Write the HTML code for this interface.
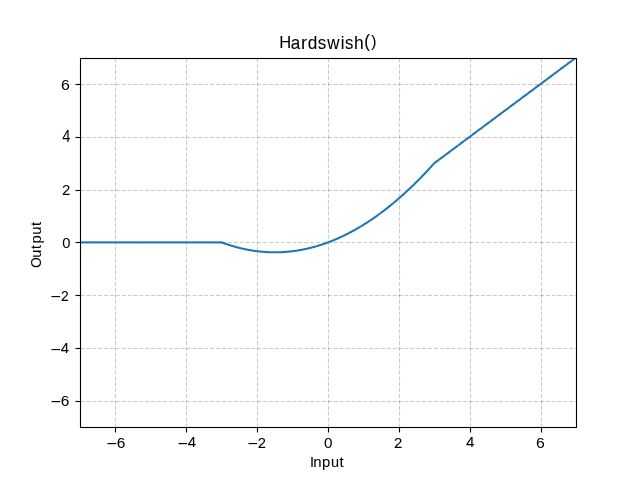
<!DOCTYPE html>
<html><head><meta charset="utf-8"><style>
html,body{margin:0;padding:0;background:#fff;overflow:hidden;}
svg{display:block;will-change:transform;}
text{font-family:"Liberation Sans",sans-serif;fill:#000;}
</style></head><body>
<svg width="640" height="480" viewBox="0 0 640 480">
<rect width="640" height="480" fill="#fff"/>
<g fill="#000" fill-opacity="0.2"><rect x="80.5" y="400.945" width="4.111" height="1.111"/><rect x="86.389" y="400.945" width="4.111" height="1.111"/><rect x="92.278" y="400.945" width="4.111" height="1.111"/><rect x="98.167" y="400.945" width="4.111" height="1.111"/><rect x="104.056" y="400.945" width="4.111" height="1.111"/><rect x="109.945" y="400.945" width="4.111" height="1.111"/><rect x="115.834" y="400.945" width="4.111" height="1.111"/><rect x="121.723" y="400.945" width="4.111" height="1.111"/><rect x="127.612" y="400.945" width="4.111" height="1.111"/><rect x="133.501" y="400.945" width="4.111" height="1.111"/><rect x="139.39" y="400.945" width="4.111" height="1.111"/><rect x="145.279" y="400.945" width="4.111" height="1.111"/><rect x="151.168" y="400.945" width="4.111" height="1.111"/><rect x="157.057" y="400.945" width="4.111" height="1.111"/><rect x="162.946" y="400.945" width="4.111" height="1.111"/><rect x="168.835" y="400.945" width="4.111" height="1.111"/><rect x="174.724" y="400.945" width="4.111" height="1.111"/><rect x="180.613" y="400.945" width="4.111" height="1.111"/><rect x="186.502" y="400.945" width="4.111" height="1.111"/><rect x="192.391" y="400.945" width="4.111" height="1.111"/><rect x="198.28" y="400.945" width="4.111" height="1.111"/><rect x="204.169" y="400.945" width="4.111" height="1.111"/><rect x="210.058" y="400.945" width="4.111" height="1.111"/><rect x="215.947" y="400.945" width="4.111" height="1.111"/><rect x="221.836" y="400.945" width="4.111" height="1.111"/><rect x="227.725" y="400.945" width="4.111" height="1.111"/><rect x="233.614" y="400.945" width="4.111" height="1.111"/><rect x="239.503" y="400.945" width="4.111" height="1.111"/><rect x="245.392" y="400.945" width="4.111" height="1.111"/><rect x="251.281" y="400.945" width="4.111" height="1.111"/><rect x="257.17" y="400.945" width="4.111" height="1.111"/><rect x="263.059" y="400.945" width="4.111" height="1.111"/><rect x="268.948" y="400.945" width="4.111" height="1.111"/><rect x="274.837" y="400.945" width="4.111" height="1.111"/><rect x="280.726" y="400.945" width="4.111" height="1.111"/><rect x="286.615" y="400.945" width="4.111" height="1.111"/><rect x="292.504" y="400.945" width="4.111" height="1.111"/><rect x="298.393" y="400.945" width="4.111" height="1.111"/><rect x="304.282" y="400.945" width="4.111" height="1.111"/><rect x="310.171" y="400.945" width="4.111" height="1.111"/><rect x="316.06" y="400.945" width="4.111" height="1.111"/><rect x="321.949" y="400.945" width="4.111" height="1.111"/><rect x="327.838" y="400.945" width="4.111" height="1.111"/><rect x="333.727" y="400.945" width="4.111" height="1.111"/><rect x="339.616" y="400.945" width="4.111" height="1.111"/><rect x="345.505" y="400.945" width="4.111" height="1.111"/><rect x="351.394" y="400.945" width="4.111" height="1.111"/><rect x="357.283" y="400.945" width="4.111" height="1.111"/><rect x="363.172" y="400.945" width="4.111" height="1.111"/><rect x="369.061" y="400.945" width="4.111" height="1.111"/><rect x="374.95" y="400.945" width="4.111" height="1.111"/><rect x="380.839" y="400.945" width="4.111" height="1.111"/><rect x="386.728" y="400.945" width="4.111" height="1.111"/><rect x="392.617" y="400.945" width="4.111" height="1.111"/><rect x="398.506" y="400.945" width="4.111" height="1.111"/><rect x="404.395" y="400.945" width="4.111" height="1.111"/><rect x="410.284" y="400.945" width="4.111" height="1.111"/><rect x="416.173" y="400.945" width="4.111" height="1.111"/><rect x="422.062" y="400.945" width="4.111" height="1.111"/><rect x="427.951" y="400.945" width="4.111" height="1.111"/><rect x="433.84" y="400.945" width="4.111" height="1.111"/><rect x="439.729" y="400.945" width="4.111" height="1.111"/><rect x="445.618" y="400.945" width="4.111" height="1.111"/><rect x="451.507" y="400.945" width="4.111" height="1.111"/><rect x="457.396" y="400.945" width="4.111" height="1.111"/><rect x="463.285" y="400.945" width="4.111" height="1.111"/><rect x="469.174" y="400.945" width="4.111" height="1.111"/><rect x="475.063" y="400.945" width="4.111" height="1.111"/><rect x="480.952" y="400.945" width="4.111" height="1.111"/><rect x="486.841" y="400.945" width="4.111" height="1.111"/><rect x="492.73" y="400.945" width="4.111" height="1.111"/><rect x="498.619" y="400.945" width="4.111" height="1.111"/><rect x="504.508" y="400.945" width="4.111" height="1.111"/><rect x="510.397" y="400.945" width="4.111" height="1.111"/><rect x="516.286" y="400.945" width="4.111" height="1.111"/><rect x="522.175" y="400.945" width="4.111" height="1.111"/><rect x="528.064" y="400.945" width="4.111" height="1.111"/><rect x="533.953" y="400.945" width="4.111" height="1.111"/><rect x="539.842" y="400.945" width="4.111" height="1.111"/><rect x="545.731" y="400.945" width="4.111" height="1.111"/><rect x="551.62" y="400.945" width="4.111" height="1.111"/><rect x="557.509" y="400.945" width="4.111" height="1.111"/><rect x="563.398" y="400.945" width="4.111" height="1.111"/><rect x="569.287" y="400.945" width="4.111" height="1.111"/><rect x="575.176" y="400.945" width="1.324" height="1.111"/><rect x="114.945" y="423.389" width="1.111" height="4.111"/><rect x="114.945" y="417.5" width="1.111" height="4.111"/><rect x="114.945" y="411.611" width="1.111" height="4.111"/><rect x="114.945" y="405.722" width="1.111" height="4.111"/><rect x="114.945" y="399.833" width="1.111" height="4.111"/><rect x="114.945" y="393.944" width="1.111" height="4.111"/><rect x="114.945" y="388.055" width="1.111" height="4.111"/><rect x="114.945" y="382.166" width="1.111" height="4.111"/><rect x="114.945" y="376.277" width="1.111" height="4.111"/><rect x="114.945" y="370.388" width="1.111" height="4.111"/><rect x="114.945" y="364.499" width="1.111" height="4.111"/><rect x="114.945" y="358.61" width="1.111" height="4.111"/><rect x="114.945" y="352.721" width="1.111" height="4.111"/><rect x="114.945" y="346.832" width="1.111" height="4.111"/><rect x="114.945" y="340.943" width="1.111" height="4.111"/><rect x="114.945" y="335.054" width="1.111" height="4.111"/><rect x="114.945" y="329.165" width="1.111" height="4.111"/><rect x="114.945" y="323.276" width="1.111" height="4.111"/><rect x="114.945" y="317.387" width="1.111" height="4.111"/><rect x="114.945" y="311.498" width="1.111" height="4.111"/><rect x="114.945" y="305.609" width="1.111" height="4.111"/><rect x="114.945" y="299.72" width="1.111" height="4.111"/><rect x="114.945" y="293.831" width="1.111" height="4.111"/><rect x="114.945" y="287.942" width="1.111" height="4.111"/><rect x="114.945" y="282.053" width="1.111" height="4.111"/><rect x="114.945" y="276.164" width="1.111" height="4.111"/><rect x="114.945" y="270.275" width="1.111" height="4.111"/><rect x="114.945" y="264.386" width="1.111" height="4.111"/><rect x="114.945" y="258.497" width="1.111" height="4.111"/><rect x="114.945" y="252.608" width="1.111" height="4.111"/><rect x="114.945" y="246.719" width="1.111" height="4.111"/><rect x="114.945" y="240.83" width="1.111" height="4.111"/><rect x="114.945" y="234.941" width="1.111" height="4.111"/><rect x="114.945" y="229.052" width="1.111" height="4.111"/><rect x="114.945" y="223.163" width="1.111" height="4.111"/><rect x="114.945" y="217.274" width="1.111" height="4.111"/><rect x="114.945" y="211.385" width="1.111" height="4.111"/><rect x="114.945" y="205.496" width="1.111" height="4.111"/><rect x="114.945" y="199.607" width="1.111" height="4.111"/><rect x="114.945" y="193.718" width="1.111" height="4.111"/><rect x="114.945" y="187.829" width="1.111" height="4.111"/><rect x="114.945" y="181.94" width="1.111" height="4.111"/><rect x="114.945" y="176.051" width="1.111" height="4.111"/><rect x="114.945" y="170.162" width="1.111" height="4.111"/><rect x="114.945" y="164.273" width="1.111" height="4.111"/><rect x="114.945" y="158.384" width="1.111" height="4.111"/><rect x="114.945" y="152.495" width="1.111" height="4.111"/><rect x="114.945" y="146.606" width="1.111" height="4.111"/><rect x="114.945" y="140.717" width="1.111" height="4.111"/><rect x="114.945" y="134.828" width="1.111" height="4.111"/><rect x="114.945" y="128.939" width="1.111" height="4.111"/><rect x="114.945" y="123.05" width="1.111" height="4.111"/><rect x="114.945" y="117.161" width="1.111" height="4.111"/><rect x="114.945" y="111.272" width="1.111" height="4.111"/><rect x="114.945" y="105.383" width="1.111" height="4.111"/><rect x="114.945" y="99.494" width="1.111" height="4.111"/><rect x="114.945" y="93.605" width="1.111" height="4.111"/><rect x="114.945" y="87.716" width="1.111" height="4.111"/><rect x="114.945" y="81.827" width="1.111" height="4.111"/><rect x="114.945" y="75.938" width="1.111" height="4.111"/><rect x="114.945" y="70.049" width="1.111" height="4.111"/><rect x="114.945" y="64.16" width="1.111" height="4.111"/><rect x="114.945" y="58.5" width="1.111" height="3.882"/><rect x="80.5" y="347.945" width="4.111" height="1.111"/><rect x="86.389" y="347.945" width="4.111" height="1.111"/><rect x="92.278" y="347.945" width="4.111" height="1.111"/><rect x="98.167" y="347.945" width="4.111" height="1.111"/><rect x="104.056" y="347.945" width="4.111" height="1.111"/><rect x="109.945" y="347.945" width="4.111" height="1.111"/><rect x="115.834" y="347.945" width="4.111" height="1.111"/><rect x="121.723" y="347.945" width="4.111" height="1.111"/><rect x="127.612" y="347.945" width="4.111" height="1.111"/><rect x="133.501" y="347.945" width="4.111" height="1.111"/><rect x="139.39" y="347.945" width="4.111" height="1.111"/><rect x="145.279" y="347.945" width="4.111" height="1.111"/><rect x="151.168" y="347.945" width="4.111" height="1.111"/><rect x="157.057" y="347.945" width="4.111" height="1.111"/><rect x="162.946" y="347.945" width="4.111" height="1.111"/><rect x="168.835" y="347.945" width="4.111" height="1.111"/><rect x="174.724" y="347.945" width="4.111" height="1.111"/><rect x="180.613" y="347.945" width="4.111" height="1.111"/><rect x="186.502" y="347.945" width="4.111" height="1.111"/><rect x="192.391" y="347.945" width="4.111" height="1.111"/><rect x="198.28" y="347.945" width="4.111" height="1.111"/><rect x="204.169" y="347.945" width="4.111" height="1.111"/><rect x="210.058" y="347.945" width="4.111" height="1.111"/><rect x="215.947" y="347.945" width="4.111" height="1.111"/><rect x="221.836" y="347.945" width="4.111" height="1.111"/><rect x="227.725" y="347.945" width="4.111" height="1.111"/><rect x="233.614" y="347.945" width="4.111" height="1.111"/><rect x="239.503" y="347.945" width="4.111" height="1.111"/><rect x="245.392" y="347.945" width="4.111" height="1.111"/><rect x="251.281" y="347.945" width="4.111" height="1.111"/><rect x="257.17" y="347.945" width="4.111" height="1.111"/><rect x="263.059" y="347.945" width="4.111" height="1.111"/><rect x="268.948" y="347.945" width="4.111" height="1.111"/><rect x="274.837" y="347.945" width="4.111" height="1.111"/><rect x="280.726" y="347.945" width="4.111" height="1.111"/><rect x="286.615" y="347.945" width="4.111" height="1.111"/><rect x="292.504" y="347.945" width="4.111" height="1.111"/><rect x="298.393" y="347.945" width="4.111" height="1.111"/><rect x="304.282" y="347.945" width="4.111" height="1.111"/><rect x="310.171" y="347.945" width="4.111" height="1.111"/><rect x="316.06" y="347.945" width="4.111" height="1.111"/><rect x="321.949" y="347.945" width="4.111" height="1.111"/><rect x="327.838" y="347.945" width="4.111" height="1.111"/><rect x="333.727" y="347.945" width="4.111" height="1.111"/><rect x="339.616" y="347.945" width="4.111" height="1.111"/><rect x="345.505" y="347.945" width="4.111" height="1.111"/><rect x="351.394" y="347.945" width="4.111" height="1.111"/><rect x="357.283" y="347.945" width="4.111" height="1.111"/><rect x="363.172" y="347.945" width="4.111" height="1.111"/><rect x="369.061" y="347.945" width="4.111" height="1.111"/><rect x="374.95" y="347.945" width="4.111" height="1.111"/><rect x="380.839" y="347.945" width="4.111" height="1.111"/><rect x="386.728" y="347.945" width="4.111" height="1.111"/><rect x="392.617" y="347.945" width="4.111" height="1.111"/><rect x="398.506" y="347.945" width="4.111" height="1.111"/><rect x="404.395" y="347.945" width="4.111" height="1.111"/><rect x="410.284" y="347.945" width="4.111" height="1.111"/><rect x="416.173" y="347.945" width="4.111" height="1.111"/><rect x="422.062" y="347.945" width="4.111" height="1.111"/><rect x="427.951" y="347.945" width="4.111" height="1.111"/><rect x="433.84" y="347.945" width="4.111" height="1.111"/><rect x="439.729" y="347.945" width="4.111" height="1.111"/><rect x="445.618" y="347.945" width="4.111" height="1.111"/><rect x="451.507" y="347.945" width="4.111" height="1.111"/><rect x="457.396" y="347.945" width="4.111" height="1.111"/><rect x="463.285" y="347.945" width="4.111" height="1.111"/><rect x="469.174" y="347.945" width="4.111" height="1.111"/><rect x="475.063" y="347.945" width="4.111" height="1.111"/><rect x="480.952" y="347.945" width="4.111" height="1.111"/><rect x="486.841" y="347.945" width="4.111" height="1.111"/><rect x="492.73" y="347.945" width="4.111" height="1.111"/><rect x="498.619" y="347.945" width="4.111" height="1.111"/><rect x="504.508" y="347.945" width="4.111" height="1.111"/><rect x="510.397" y="347.945" width="4.111" height="1.111"/><rect x="516.286" y="347.945" width="4.111" height="1.111"/><rect x="522.175" y="347.945" width="4.111" height="1.111"/><rect x="528.064" y="347.945" width="4.111" height="1.111"/><rect x="533.953" y="347.945" width="4.111" height="1.111"/><rect x="539.842" y="347.945" width="4.111" height="1.111"/><rect x="545.731" y="347.945" width="4.111" height="1.111"/><rect x="551.62" y="347.945" width="4.111" height="1.111"/><rect x="557.509" y="347.945" width="4.111" height="1.111"/><rect x="563.398" y="347.945" width="4.111" height="1.111"/><rect x="569.287" y="347.945" width="4.111" height="1.111"/><rect x="575.176" y="347.945" width="1.324" height="1.111"/><rect x="185.945" y="423.389" width="1.111" height="4.111"/><rect x="185.945" y="417.5" width="1.111" height="4.111"/><rect x="185.945" y="411.611" width="1.111" height="4.111"/><rect x="185.945" y="405.722" width="1.111" height="4.111"/><rect x="185.945" y="399.833" width="1.111" height="4.111"/><rect x="185.945" y="393.944" width="1.111" height="4.111"/><rect x="185.945" y="388.055" width="1.111" height="4.111"/><rect x="185.945" y="382.166" width="1.111" height="4.111"/><rect x="185.945" y="376.277" width="1.111" height="4.111"/><rect x="185.945" y="370.388" width="1.111" height="4.111"/><rect x="185.945" y="364.499" width="1.111" height="4.111"/><rect x="185.945" y="358.61" width="1.111" height="4.111"/><rect x="185.945" y="352.721" width="1.111" height="4.111"/><rect x="185.945" y="346.832" width="1.111" height="4.111"/><rect x="185.945" y="340.943" width="1.111" height="4.111"/><rect x="185.945" y="335.054" width="1.111" height="4.111"/><rect x="185.945" y="329.165" width="1.111" height="4.111"/><rect x="185.945" y="323.276" width="1.111" height="4.111"/><rect x="185.945" y="317.387" width="1.111" height="4.111"/><rect x="185.945" y="311.498" width="1.111" height="4.111"/><rect x="185.945" y="305.609" width="1.111" height="4.111"/><rect x="185.945" y="299.72" width="1.111" height="4.111"/><rect x="185.945" y="293.831" width="1.111" height="4.111"/><rect x="185.945" y="287.942" width="1.111" height="4.111"/><rect x="185.945" y="282.053" width="1.111" height="4.111"/><rect x="185.945" y="276.164" width="1.111" height="4.111"/><rect x="185.945" y="270.275" width="1.111" height="4.111"/><rect x="185.945" y="264.386" width="1.111" height="4.111"/><rect x="185.945" y="258.497" width="1.111" height="4.111"/><rect x="185.945" y="252.608" width="1.111" height="4.111"/><rect x="185.945" y="246.719" width="1.111" height="4.111"/><rect x="185.945" y="240.83" width="1.111" height="4.111"/><rect x="185.945" y="234.941" width="1.111" height="4.111"/><rect x="185.945" y="229.052" width="1.111" height="4.111"/><rect x="185.945" y="223.163" width="1.111" height="4.111"/><rect x="185.945" y="217.274" width="1.111" height="4.111"/><rect x="185.945" y="211.385" width="1.111" height="4.111"/><rect x="185.945" y="205.496" width="1.111" height="4.111"/><rect x="185.945" y="199.607" width="1.111" height="4.111"/><rect x="185.945" y="193.718" width="1.111" height="4.111"/><rect x="185.945" y="187.829" width="1.111" height="4.111"/><rect x="185.945" y="181.94" width="1.111" height="4.111"/><rect x="185.945" y="176.051" width="1.111" height="4.111"/><rect x="185.945" y="170.162" width="1.111" height="4.111"/><rect x="185.945" y="164.273" width="1.111" height="4.111"/><rect x="185.945" y="158.384" width="1.111" height="4.111"/><rect x="185.945" y="152.495" width="1.111" height="4.111"/><rect x="185.945" y="146.606" width="1.111" height="4.111"/><rect x="185.945" y="140.717" width="1.111" height="4.111"/><rect x="185.945" y="134.828" width="1.111" height="4.111"/><rect x="185.945" y="128.939" width="1.111" height="4.111"/><rect x="185.945" y="123.05" width="1.111" height="4.111"/><rect x="185.945" y="117.161" width="1.111" height="4.111"/><rect x="185.945" y="111.272" width="1.111" height="4.111"/><rect x="185.945" y="105.383" width="1.111" height="4.111"/><rect x="185.945" y="99.494" width="1.111" height="4.111"/><rect x="185.945" y="93.605" width="1.111" height="4.111"/><rect x="185.945" y="87.716" width="1.111" height="4.111"/><rect x="185.945" y="81.827" width="1.111" height="4.111"/><rect x="185.945" y="75.938" width="1.111" height="4.111"/><rect x="185.945" y="70.049" width="1.111" height="4.111"/><rect x="185.945" y="64.16" width="1.111" height="4.111"/><rect x="185.945" y="58.5" width="1.111" height="3.882"/><rect x="80.5" y="294.945" width="4.111" height="1.111"/><rect x="86.389" y="294.945" width="4.111" height="1.111"/><rect x="92.278" y="294.945" width="4.111" height="1.111"/><rect x="98.167" y="294.945" width="4.111" height="1.111"/><rect x="104.056" y="294.945" width="4.111" height="1.111"/><rect x="109.945" y="294.945" width="4.111" height="1.111"/><rect x="115.834" y="294.945" width="4.111" height="1.111"/><rect x="121.723" y="294.945" width="4.111" height="1.111"/><rect x="127.612" y="294.945" width="4.111" height="1.111"/><rect x="133.501" y="294.945" width="4.111" height="1.111"/><rect x="139.39" y="294.945" width="4.111" height="1.111"/><rect x="145.279" y="294.945" width="4.111" height="1.111"/><rect x="151.168" y="294.945" width="4.111" height="1.111"/><rect x="157.057" y="294.945" width="4.111" height="1.111"/><rect x="162.946" y="294.945" width="4.111" height="1.111"/><rect x="168.835" y="294.945" width="4.111" height="1.111"/><rect x="174.724" y="294.945" width="4.111" height="1.111"/><rect x="180.613" y="294.945" width="4.111" height="1.111"/><rect x="186.502" y="294.945" width="4.111" height="1.111"/><rect x="192.391" y="294.945" width="4.111" height="1.111"/><rect x="198.28" y="294.945" width="4.111" height="1.111"/><rect x="204.169" y="294.945" width="4.111" height="1.111"/><rect x="210.058" y="294.945" width="4.111" height="1.111"/><rect x="215.947" y="294.945" width="4.111" height="1.111"/><rect x="221.836" y="294.945" width="4.111" height="1.111"/><rect x="227.725" y="294.945" width="4.111" height="1.111"/><rect x="233.614" y="294.945" width="4.111" height="1.111"/><rect x="239.503" y="294.945" width="4.111" height="1.111"/><rect x="245.392" y="294.945" width="4.111" height="1.111"/><rect x="251.281" y="294.945" width="4.111" height="1.111"/><rect x="257.17" y="294.945" width="4.111" height="1.111"/><rect x="263.059" y="294.945" width="4.111" height="1.111"/><rect x="268.948" y="294.945" width="4.111" height="1.111"/><rect x="274.837" y="294.945" width="4.111" height="1.111"/><rect x="280.726" y="294.945" width="4.111" height="1.111"/><rect x="286.615" y="294.945" width="4.111" height="1.111"/><rect x="292.504" y="294.945" width="4.111" height="1.111"/><rect x="298.393" y="294.945" width="4.111" height="1.111"/><rect x="304.282" y="294.945" width="4.111" height="1.111"/><rect x="310.171" y="294.945" width="4.111" height="1.111"/><rect x="316.06" y="294.945" width="4.111" height="1.111"/><rect x="321.949" y="294.945" width="4.111" height="1.111"/><rect x="327.838" y="294.945" width="4.111" height="1.111"/><rect x="333.727" y="294.945" width="4.111" height="1.111"/><rect x="339.616" y="294.945" width="4.111" height="1.111"/><rect x="345.505" y="294.945" width="4.111" height="1.111"/><rect x="351.394" y="294.945" width="4.111" height="1.111"/><rect x="357.283" y="294.945" width="4.111" height="1.111"/><rect x="363.172" y="294.945" width="4.111" height="1.111"/><rect x="369.061" y="294.945" width="4.111" height="1.111"/><rect x="374.95" y="294.945" width="4.111" height="1.111"/><rect x="380.839" y="294.945" width="4.111" height="1.111"/><rect x="386.728" y="294.945" width="4.111" height="1.111"/><rect x="392.617" y="294.945" width="4.111" height="1.111"/><rect x="398.506" y="294.945" width="4.111" height="1.111"/><rect x="404.395" y="294.945" width="4.111" height="1.111"/><rect x="410.284" y="294.945" width="4.111" height="1.111"/><rect x="416.173" y="294.945" width="4.111" height="1.111"/><rect x="422.062" y="294.945" width="4.111" height="1.111"/><rect x="427.951" y="294.945" width="4.111" height="1.111"/><rect x="433.84" y="294.945" width="4.111" height="1.111"/><rect x="439.729" y="294.945" width="4.111" height="1.111"/><rect x="445.618" y="294.945" width="4.111" height="1.111"/><rect x="451.507" y="294.945" width="4.111" height="1.111"/><rect x="457.396" y="294.945" width="4.111" height="1.111"/><rect x="463.285" y="294.945" width="4.111" height="1.111"/><rect x="469.174" y="294.945" width="4.111" height="1.111"/><rect x="475.063" y="294.945" width="4.111" height="1.111"/><rect x="480.952" y="294.945" width="4.111" height="1.111"/><rect x="486.841" y="294.945" width="4.111" height="1.111"/><rect x="492.73" y="294.945" width="4.111" height="1.111"/><rect x="498.619" y="294.945" width="4.111" height="1.111"/><rect x="504.508" y="294.945" width="4.111" height="1.111"/><rect x="510.397" y="294.945" width="4.111" height="1.111"/><rect x="516.286" y="294.945" width="4.111" height="1.111"/><rect x="522.175" y="294.945" width="4.111" height="1.111"/><rect x="528.064" y="294.945" width="4.111" height="1.111"/><rect x="533.953" y="294.945" width="4.111" height="1.111"/><rect x="539.842" y="294.945" width="4.111" height="1.111"/><rect x="545.731" y="294.945" width="4.111" height="1.111"/><rect x="551.62" y="294.945" width="4.111" height="1.111"/><rect x="557.509" y="294.945" width="4.111" height="1.111"/><rect x="563.398" y="294.945" width="4.111" height="1.111"/><rect x="569.287" y="294.945" width="4.111" height="1.111"/><rect x="575.176" y="294.945" width="1.324" height="1.111"/><rect x="256.945" y="423.389" width="1.111" height="4.111"/><rect x="256.945" y="417.5" width="1.111" height="4.111"/><rect x="256.945" y="411.611" width="1.111" height="4.111"/><rect x="256.945" y="405.722" width="1.111" height="4.111"/><rect x="256.945" y="399.833" width="1.111" height="4.111"/><rect x="256.945" y="393.944" width="1.111" height="4.111"/><rect x="256.945" y="388.055" width="1.111" height="4.111"/><rect x="256.945" y="382.166" width="1.111" height="4.111"/><rect x="256.945" y="376.277" width="1.111" height="4.111"/><rect x="256.945" y="370.388" width="1.111" height="4.111"/><rect x="256.945" y="364.499" width="1.111" height="4.111"/><rect x="256.945" y="358.61" width="1.111" height="4.111"/><rect x="256.945" y="352.721" width="1.111" height="4.111"/><rect x="256.945" y="346.832" width="1.111" height="4.111"/><rect x="256.945" y="340.943" width="1.111" height="4.111"/><rect x="256.945" y="335.054" width="1.111" height="4.111"/><rect x="256.945" y="329.165" width="1.111" height="4.111"/><rect x="256.945" y="323.276" width="1.111" height="4.111"/><rect x="256.945" y="317.387" width="1.111" height="4.111"/><rect x="256.945" y="311.498" width="1.111" height="4.111"/><rect x="256.945" y="305.609" width="1.111" height="4.111"/><rect x="256.945" y="299.72" width="1.111" height="4.111"/><rect x="256.945" y="293.831" width="1.111" height="4.111"/><rect x="256.945" y="287.942" width="1.111" height="4.111"/><rect x="256.945" y="282.053" width="1.111" height="4.111"/><rect x="256.945" y="276.164" width="1.111" height="4.111"/><rect x="256.945" y="270.275" width="1.111" height="4.111"/><rect x="256.945" y="264.386" width="1.111" height="4.111"/><rect x="256.945" y="258.497" width="1.111" height="4.111"/><rect x="256.945" y="252.608" width="1.111" height="4.111"/><rect x="256.945" y="246.719" width="1.111" height="4.111"/><rect x="256.945" y="240.83" width="1.111" height="4.111"/><rect x="256.945" y="234.941" width="1.111" height="4.111"/><rect x="256.945" y="229.052" width="1.111" height="4.111"/><rect x="256.945" y="223.163" width="1.111" height="4.111"/><rect x="256.945" y="217.274" width="1.111" height="4.111"/><rect x="256.945" y="211.385" width="1.111" height="4.111"/><rect x="256.945" y="205.496" width="1.111" height="4.111"/><rect x="256.945" y="199.607" width="1.111" height="4.111"/><rect x="256.945" y="193.718" width="1.111" height="4.111"/><rect x="256.945" y="187.829" width="1.111" height="4.111"/><rect x="256.945" y="181.94" width="1.111" height="4.111"/><rect x="256.945" y="176.051" width="1.111" height="4.111"/><rect x="256.945" y="170.162" width="1.111" height="4.111"/><rect x="256.945" y="164.273" width="1.111" height="4.111"/><rect x="256.945" y="158.384" width="1.111" height="4.111"/><rect x="256.945" y="152.495" width="1.111" height="4.111"/><rect x="256.945" y="146.606" width="1.111" height="4.111"/><rect x="256.945" y="140.717" width="1.111" height="4.111"/><rect x="256.945" y="134.828" width="1.111" height="4.111"/><rect x="256.945" y="128.939" width="1.111" height="4.111"/><rect x="256.945" y="123.05" width="1.111" height="4.111"/><rect x="256.945" y="117.161" width="1.111" height="4.111"/><rect x="256.945" y="111.272" width="1.111" height="4.111"/><rect x="256.945" y="105.383" width="1.111" height="4.111"/><rect x="256.945" y="99.494" width="1.111" height="4.111"/><rect x="256.945" y="93.605" width="1.111" height="4.111"/><rect x="256.945" y="87.716" width="1.111" height="4.111"/><rect x="256.945" y="81.827" width="1.111" height="4.111"/><rect x="256.945" y="75.938" width="1.111" height="4.111"/><rect x="256.945" y="70.049" width="1.111" height="4.111"/><rect x="256.945" y="64.16" width="1.111" height="4.111"/><rect x="256.945" y="58.5" width="1.111" height="3.882"/><rect x="80.5" y="241.945" width="4.111" height="1.111"/><rect x="86.389" y="241.945" width="4.111" height="1.111"/><rect x="92.278" y="241.945" width="4.111" height="1.111"/><rect x="98.167" y="241.945" width="4.111" height="1.111"/><rect x="104.056" y="241.945" width="4.111" height="1.111"/><rect x="109.945" y="241.945" width="4.111" height="1.111"/><rect x="115.834" y="241.945" width="4.111" height="1.111"/><rect x="121.723" y="241.945" width="4.111" height="1.111"/><rect x="127.612" y="241.945" width="4.111" height="1.111"/><rect x="133.501" y="241.945" width="4.111" height="1.111"/><rect x="139.39" y="241.945" width="4.111" height="1.111"/><rect x="145.279" y="241.945" width="4.111" height="1.111"/><rect x="151.168" y="241.945" width="4.111" height="1.111"/><rect x="157.057" y="241.945" width="4.111" height="1.111"/><rect x="162.946" y="241.945" width="4.111" height="1.111"/><rect x="168.835" y="241.945" width="4.111" height="1.111"/><rect x="174.724" y="241.945" width="4.111" height="1.111"/><rect x="180.613" y="241.945" width="4.111" height="1.111"/><rect x="186.502" y="241.945" width="4.111" height="1.111"/><rect x="192.391" y="241.945" width="4.111" height="1.111"/><rect x="198.28" y="241.945" width="4.111" height="1.111"/><rect x="204.169" y="241.945" width="4.111" height="1.111"/><rect x="210.058" y="241.945" width="4.111" height="1.111"/><rect x="215.947" y="241.945" width="4.111" height="1.111"/><rect x="221.836" y="241.945" width="4.111" height="1.111"/><rect x="227.725" y="241.945" width="4.111" height="1.111"/><rect x="233.614" y="241.945" width="4.111" height="1.111"/><rect x="239.503" y="241.945" width="4.111" height="1.111"/><rect x="245.392" y="241.945" width="4.111" height="1.111"/><rect x="251.281" y="241.945" width="4.111" height="1.111"/><rect x="257.17" y="241.945" width="4.111" height="1.111"/><rect x="263.059" y="241.945" width="4.111" height="1.111"/><rect x="268.948" y="241.945" width="4.111" height="1.111"/><rect x="274.837" y="241.945" width="4.111" height="1.111"/><rect x="280.726" y="241.945" width="4.111" height="1.111"/><rect x="286.615" y="241.945" width="4.111" height="1.111"/><rect x="292.504" y="241.945" width="4.111" height="1.111"/><rect x="298.393" y="241.945" width="4.111" height="1.111"/><rect x="304.282" y="241.945" width="4.111" height="1.111"/><rect x="310.171" y="241.945" width="4.111" height="1.111"/><rect x="316.06" y="241.945" width="4.111" height="1.111"/><rect x="321.949" y="241.945" width="4.111" height="1.111"/><rect x="327.838" y="241.945" width="4.111" height="1.111"/><rect x="333.727" y="241.945" width="4.111" height="1.111"/><rect x="339.616" y="241.945" width="4.111" height="1.111"/><rect x="345.505" y="241.945" width="4.111" height="1.111"/><rect x="351.394" y="241.945" width="4.111" height="1.111"/><rect x="357.283" y="241.945" width="4.111" height="1.111"/><rect x="363.172" y="241.945" width="4.111" height="1.111"/><rect x="369.061" y="241.945" width="4.111" height="1.111"/><rect x="374.95" y="241.945" width="4.111" height="1.111"/><rect x="380.839" y="241.945" width="4.111" height="1.111"/><rect x="386.728" y="241.945" width="4.111" height="1.111"/><rect x="392.617" y="241.945" width="4.111" height="1.111"/><rect x="398.506" y="241.945" width="4.111" height="1.111"/><rect x="404.395" y="241.945" width="4.111" height="1.111"/><rect x="410.284" y="241.945" width="4.111" height="1.111"/><rect x="416.173" y="241.945" width="4.111" height="1.111"/><rect x="422.062" y="241.945" width="4.111" height="1.111"/><rect x="427.951" y="241.945" width="4.111" height="1.111"/><rect x="433.84" y="241.945" width="4.111" height="1.111"/><rect x="439.729" y="241.945" width="4.111" height="1.111"/><rect x="445.618" y="241.945" width="4.111" height="1.111"/><rect x="451.507" y="241.945" width="4.111" height="1.111"/><rect x="457.396" y="241.945" width="4.111" height="1.111"/><rect x="463.285" y="241.945" width="4.111" height="1.111"/><rect x="469.174" y="241.945" width="4.111" height="1.111"/><rect x="475.063" y="241.945" width="4.111" height="1.111"/><rect x="480.952" y="241.945" width="4.111" height="1.111"/><rect x="486.841" y="241.945" width="4.111" height="1.111"/><rect x="492.73" y="241.945" width="4.111" height="1.111"/><rect x="498.619" y="241.945" width="4.111" height="1.111"/><rect x="504.508" y="241.945" width="4.111" height="1.111"/><rect x="510.397" y="241.945" width="4.111" height="1.111"/><rect x="516.286" y="241.945" width="4.111" height="1.111"/><rect x="522.175" y="241.945" width="4.111" height="1.111"/><rect x="528.064" y="241.945" width="4.111" height="1.111"/><rect x="533.953" y="241.945" width="4.111" height="1.111"/><rect x="539.842" y="241.945" width="4.111" height="1.111"/><rect x="545.731" y="241.945" width="4.111" height="1.111"/><rect x="551.62" y="241.945" width="4.111" height="1.111"/><rect x="557.509" y="241.945" width="4.111" height="1.111"/><rect x="563.398" y="241.945" width="4.111" height="1.111"/><rect x="569.287" y="241.945" width="4.111" height="1.111"/><rect x="575.176" y="241.945" width="1.324" height="1.111"/><rect x="327.945" y="423.389" width="1.111" height="4.111"/><rect x="327.945" y="417.5" width="1.111" height="4.111"/><rect x="327.945" y="411.611" width="1.111" height="4.111"/><rect x="327.945" y="405.722" width="1.111" height="4.111"/><rect x="327.945" y="399.833" width="1.111" height="4.111"/><rect x="327.945" y="393.944" width="1.111" height="4.111"/><rect x="327.945" y="388.055" width="1.111" height="4.111"/><rect x="327.945" y="382.166" width="1.111" height="4.111"/><rect x="327.945" y="376.277" width="1.111" height="4.111"/><rect x="327.945" y="370.388" width="1.111" height="4.111"/><rect x="327.945" y="364.499" width="1.111" height="4.111"/><rect x="327.945" y="358.61" width="1.111" height="4.111"/><rect x="327.945" y="352.721" width="1.111" height="4.111"/><rect x="327.945" y="346.832" width="1.111" height="4.111"/><rect x="327.945" y="340.943" width="1.111" height="4.111"/><rect x="327.945" y="335.054" width="1.111" height="4.111"/><rect x="327.945" y="329.165" width="1.111" height="4.111"/><rect x="327.945" y="323.276" width="1.111" height="4.111"/><rect x="327.945" y="317.387" width="1.111" height="4.111"/><rect x="327.945" y="311.498" width="1.111" height="4.111"/><rect x="327.945" y="305.609" width="1.111" height="4.111"/><rect x="327.945" y="299.72" width="1.111" height="4.111"/><rect x="327.945" y="293.831" width="1.111" height="4.111"/><rect x="327.945" y="287.942" width="1.111" height="4.111"/><rect x="327.945" y="282.053" width="1.111" height="4.111"/><rect x="327.945" y="276.164" width="1.111" height="4.111"/><rect x="327.945" y="270.275" width="1.111" height="4.111"/><rect x="327.945" y="264.386" width="1.111" height="4.111"/><rect x="327.945" y="258.497" width="1.111" height="4.111"/><rect x="327.945" y="252.608" width="1.111" height="4.111"/><rect x="327.945" y="246.719" width="1.111" height="4.111"/><rect x="327.945" y="240.83" width="1.111" height="4.111"/><rect x="327.945" y="234.941" width="1.111" height="4.111"/><rect x="327.945" y="229.052" width="1.111" height="4.111"/><rect x="327.945" y="223.163" width="1.111" height="4.111"/><rect x="327.945" y="217.274" width="1.111" height="4.111"/><rect x="327.945" y="211.385" width="1.111" height="4.111"/><rect x="327.945" y="205.496" width="1.111" height="4.111"/><rect x="327.945" y="199.607" width="1.111" height="4.111"/><rect x="327.945" y="193.718" width="1.111" height="4.111"/><rect x="327.945" y="187.829" width="1.111" height="4.111"/><rect x="327.945" y="181.94" width="1.111" height="4.111"/><rect x="327.945" y="176.051" width="1.111" height="4.111"/><rect x="327.945" y="170.162" width="1.111" height="4.111"/><rect x="327.945" y="164.273" width="1.111" height="4.111"/><rect x="327.945" y="158.384" width="1.111" height="4.111"/><rect x="327.945" y="152.495" width="1.111" height="4.111"/><rect x="327.945" y="146.606" width="1.111" height="4.111"/><rect x="327.945" y="140.717" width="1.111" height="4.111"/><rect x="327.945" y="134.828" width="1.111" height="4.111"/><rect x="327.945" y="128.939" width="1.111" height="4.111"/><rect x="327.945" y="123.05" width="1.111" height="4.111"/><rect x="327.945" y="117.161" width="1.111" height="4.111"/><rect x="327.945" y="111.272" width="1.111" height="4.111"/><rect x="327.945" y="105.383" width="1.111" height="4.111"/><rect x="327.945" y="99.494" width="1.111" height="4.111"/><rect x="327.945" y="93.605" width="1.111" height="4.111"/><rect x="327.945" y="87.716" width="1.111" height="4.111"/><rect x="327.945" y="81.827" width="1.111" height="4.111"/><rect x="327.945" y="75.938" width="1.111" height="4.111"/><rect x="327.945" y="70.049" width="1.111" height="4.111"/><rect x="327.945" y="64.16" width="1.111" height="4.111"/><rect x="327.945" y="58.5" width="1.111" height="3.882"/><rect x="80.5" y="189.945" width="4.111" height="1.111"/><rect x="86.389" y="189.945" width="4.111" height="1.111"/><rect x="92.278" y="189.945" width="4.111" height="1.111"/><rect x="98.167" y="189.945" width="4.111" height="1.111"/><rect x="104.056" y="189.945" width="4.111" height="1.111"/><rect x="109.945" y="189.945" width="4.111" height="1.111"/><rect x="115.834" y="189.945" width="4.111" height="1.111"/><rect x="121.723" y="189.945" width="4.111" height="1.111"/><rect x="127.612" y="189.945" width="4.111" height="1.111"/><rect x="133.501" y="189.945" width="4.111" height="1.111"/><rect x="139.39" y="189.945" width="4.111" height="1.111"/><rect x="145.279" y="189.945" width="4.111" height="1.111"/><rect x="151.168" y="189.945" width="4.111" height="1.111"/><rect x="157.057" y="189.945" width="4.111" height="1.111"/><rect x="162.946" y="189.945" width="4.111" height="1.111"/><rect x="168.835" y="189.945" width="4.111" height="1.111"/><rect x="174.724" y="189.945" width="4.111" height="1.111"/><rect x="180.613" y="189.945" width="4.111" height="1.111"/><rect x="186.502" y="189.945" width="4.111" height="1.111"/><rect x="192.391" y="189.945" width="4.111" height="1.111"/><rect x="198.28" y="189.945" width="4.111" height="1.111"/><rect x="204.169" y="189.945" width="4.111" height="1.111"/><rect x="210.058" y="189.945" width="4.111" height="1.111"/><rect x="215.947" y="189.945" width="4.111" height="1.111"/><rect x="221.836" y="189.945" width="4.111" height="1.111"/><rect x="227.725" y="189.945" width="4.111" height="1.111"/><rect x="233.614" y="189.945" width="4.111" height="1.111"/><rect x="239.503" y="189.945" width="4.111" height="1.111"/><rect x="245.392" y="189.945" width="4.111" height="1.111"/><rect x="251.281" y="189.945" width="4.111" height="1.111"/><rect x="257.17" y="189.945" width="4.111" height="1.111"/><rect x="263.059" y="189.945" width="4.111" height="1.111"/><rect x="268.948" y="189.945" width="4.111" height="1.111"/><rect x="274.837" y="189.945" width="4.111" height="1.111"/><rect x="280.726" y="189.945" width="4.111" height="1.111"/><rect x="286.615" y="189.945" width="4.111" height="1.111"/><rect x="292.504" y="189.945" width="4.111" height="1.111"/><rect x="298.393" y="189.945" width="4.111" height="1.111"/><rect x="304.282" y="189.945" width="4.111" height="1.111"/><rect x="310.171" y="189.945" width="4.111" height="1.111"/><rect x="316.06" y="189.945" width="4.111" height="1.111"/><rect x="321.949" y="189.945" width="4.111" height="1.111"/><rect x="327.838" y="189.945" width="4.111" height="1.111"/><rect x="333.727" y="189.945" width="4.111" height="1.111"/><rect x="339.616" y="189.945" width="4.111" height="1.111"/><rect x="345.505" y="189.945" width="4.111" height="1.111"/><rect x="351.394" y="189.945" width="4.111" height="1.111"/><rect x="357.283" y="189.945" width="4.111" height="1.111"/><rect x="363.172" y="189.945" width="4.111" height="1.111"/><rect x="369.061" y="189.945" width="4.111" height="1.111"/><rect x="374.95" y="189.945" width="4.111" height="1.111"/><rect x="380.839" y="189.945" width="4.111" height="1.111"/><rect x="386.728" y="189.945" width="4.111" height="1.111"/><rect x="392.617" y="189.945" width="4.111" height="1.111"/><rect x="398.506" y="189.945" width="4.111" height="1.111"/><rect x="404.395" y="189.945" width="4.111" height="1.111"/><rect x="410.284" y="189.945" width="4.111" height="1.111"/><rect x="416.173" y="189.945" width="4.111" height="1.111"/><rect x="422.062" y="189.945" width="4.111" height="1.111"/><rect x="427.951" y="189.945" width="4.111" height="1.111"/><rect x="433.84" y="189.945" width="4.111" height="1.111"/><rect x="439.729" y="189.945" width="4.111" height="1.111"/><rect x="445.618" y="189.945" width="4.111" height="1.111"/><rect x="451.507" y="189.945" width="4.111" height="1.111"/><rect x="457.396" y="189.945" width="4.111" height="1.111"/><rect x="463.285" y="189.945" width="4.111" height="1.111"/><rect x="469.174" y="189.945" width="4.111" height="1.111"/><rect x="475.063" y="189.945" width="4.111" height="1.111"/><rect x="480.952" y="189.945" width="4.111" height="1.111"/><rect x="486.841" y="189.945" width="4.111" height="1.111"/><rect x="492.73" y="189.945" width="4.111" height="1.111"/><rect x="498.619" y="189.945" width="4.111" height="1.111"/><rect x="504.508" y="189.945" width="4.111" height="1.111"/><rect x="510.397" y="189.945" width="4.111" height="1.111"/><rect x="516.286" y="189.945" width="4.111" height="1.111"/><rect x="522.175" y="189.945" width="4.111" height="1.111"/><rect x="528.064" y="189.945" width="4.111" height="1.111"/><rect x="533.953" y="189.945" width="4.111" height="1.111"/><rect x="539.842" y="189.945" width="4.111" height="1.111"/><rect x="545.731" y="189.945" width="4.111" height="1.111"/><rect x="551.62" y="189.945" width="4.111" height="1.111"/><rect x="557.509" y="189.945" width="4.111" height="1.111"/><rect x="563.398" y="189.945" width="4.111" height="1.111"/><rect x="569.287" y="189.945" width="4.111" height="1.111"/><rect x="575.176" y="189.945" width="1.324" height="1.111"/><rect x="398.945" y="423.389" width="1.111" height="4.111"/><rect x="398.945" y="417.5" width="1.111" height="4.111"/><rect x="398.945" y="411.611" width="1.111" height="4.111"/><rect x="398.945" y="405.722" width="1.111" height="4.111"/><rect x="398.945" y="399.833" width="1.111" height="4.111"/><rect x="398.945" y="393.944" width="1.111" height="4.111"/><rect x="398.945" y="388.055" width="1.111" height="4.111"/><rect x="398.945" y="382.166" width="1.111" height="4.111"/><rect x="398.945" y="376.277" width="1.111" height="4.111"/><rect x="398.945" y="370.388" width="1.111" height="4.111"/><rect x="398.945" y="364.499" width="1.111" height="4.111"/><rect x="398.945" y="358.61" width="1.111" height="4.111"/><rect x="398.945" y="352.721" width="1.111" height="4.111"/><rect x="398.945" y="346.832" width="1.111" height="4.111"/><rect x="398.945" y="340.943" width="1.111" height="4.111"/><rect x="398.945" y="335.054" width="1.111" height="4.111"/><rect x="398.945" y="329.165" width="1.111" height="4.111"/><rect x="398.945" y="323.276" width="1.111" height="4.111"/><rect x="398.945" y="317.387" width="1.111" height="4.111"/><rect x="398.945" y="311.498" width="1.111" height="4.111"/><rect x="398.945" y="305.609" width="1.111" height="4.111"/><rect x="398.945" y="299.72" width="1.111" height="4.111"/><rect x="398.945" y="293.831" width="1.111" height="4.111"/><rect x="398.945" y="287.942" width="1.111" height="4.111"/><rect x="398.945" y="282.053" width="1.111" height="4.111"/><rect x="398.945" y="276.164" width="1.111" height="4.111"/><rect x="398.945" y="270.275" width="1.111" height="4.111"/><rect x="398.945" y="264.386" width="1.111" height="4.111"/><rect x="398.945" y="258.497" width="1.111" height="4.111"/><rect x="398.945" y="252.608" width="1.111" height="4.111"/><rect x="398.945" y="246.719" width="1.111" height="4.111"/><rect x="398.945" y="240.83" width="1.111" height="4.111"/><rect x="398.945" y="234.941" width="1.111" height="4.111"/><rect x="398.945" y="229.052" width="1.111" height="4.111"/><rect x="398.945" y="223.163" width="1.111" height="4.111"/><rect x="398.945" y="217.274" width="1.111" height="4.111"/><rect x="398.945" y="211.385" width="1.111" height="4.111"/><rect x="398.945" y="205.496" width="1.111" height="4.111"/><rect x="398.945" y="199.607" width="1.111" height="4.111"/><rect x="398.945" y="193.718" width="1.111" height="4.111"/><rect x="398.945" y="187.829" width="1.111" height="4.111"/><rect x="398.945" y="181.94" width="1.111" height="4.111"/><rect x="398.945" y="176.051" width="1.111" height="4.111"/><rect x="398.945" y="170.162" width="1.111" height="4.111"/><rect x="398.945" y="164.273" width="1.111" height="4.111"/><rect x="398.945" y="158.384" width="1.111" height="4.111"/><rect x="398.945" y="152.495" width="1.111" height="4.111"/><rect x="398.945" y="146.606" width="1.111" height="4.111"/><rect x="398.945" y="140.717" width="1.111" height="4.111"/><rect x="398.945" y="134.828" width="1.111" height="4.111"/><rect x="398.945" y="128.939" width="1.111" height="4.111"/><rect x="398.945" y="123.05" width="1.111" height="4.111"/><rect x="398.945" y="117.161" width="1.111" height="4.111"/><rect x="398.945" y="111.272" width="1.111" height="4.111"/><rect x="398.945" y="105.383" width="1.111" height="4.111"/><rect x="398.945" y="99.494" width="1.111" height="4.111"/><rect x="398.945" y="93.605" width="1.111" height="4.111"/><rect x="398.945" y="87.716" width="1.111" height="4.111"/><rect x="398.945" y="81.827" width="1.111" height="4.111"/><rect x="398.945" y="75.938" width="1.111" height="4.111"/><rect x="398.945" y="70.049" width="1.111" height="4.111"/><rect x="398.945" y="64.16" width="1.111" height="4.111"/><rect x="398.945" y="58.5" width="1.111" height="3.882"/><rect x="80.5" y="136.945" width="4.111" height="1.111"/><rect x="86.389" y="136.945" width="4.111" height="1.111"/><rect x="92.278" y="136.945" width="4.111" height="1.111"/><rect x="98.167" y="136.945" width="4.111" height="1.111"/><rect x="104.056" y="136.945" width="4.111" height="1.111"/><rect x="109.945" y="136.945" width="4.111" height="1.111"/><rect x="115.834" y="136.945" width="4.111" height="1.111"/><rect x="121.723" y="136.945" width="4.111" height="1.111"/><rect x="127.612" y="136.945" width="4.111" height="1.111"/><rect x="133.501" y="136.945" width="4.111" height="1.111"/><rect x="139.39" y="136.945" width="4.111" height="1.111"/><rect x="145.279" y="136.945" width="4.111" height="1.111"/><rect x="151.168" y="136.945" width="4.111" height="1.111"/><rect x="157.057" y="136.945" width="4.111" height="1.111"/><rect x="162.946" y="136.945" width="4.111" height="1.111"/><rect x="168.835" y="136.945" width="4.111" height="1.111"/><rect x="174.724" y="136.945" width="4.111" height="1.111"/><rect x="180.613" y="136.945" width="4.111" height="1.111"/><rect x="186.502" y="136.945" width="4.111" height="1.111"/><rect x="192.391" y="136.945" width="4.111" height="1.111"/><rect x="198.28" y="136.945" width="4.111" height="1.111"/><rect x="204.169" y="136.945" width="4.111" height="1.111"/><rect x="210.058" y="136.945" width="4.111" height="1.111"/><rect x="215.947" y="136.945" width="4.111" height="1.111"/><rect x="221.836" y="136.945" width="4.111" height="1.111"/><rect x="227.725" y="136.945" width="4.111" height="1.111"/><rect x="233.614" y="136.945" width="4.111" height="1.111"/><rect x="239.503" y="136.945" width="4.111" height="1.111"/><rect x="245.392" y="136.945" width="4.111" height="1.111"/><rect x="251.281" y="136.945" width="4.111" height="1.111"/><rect x="257.17" y="136.945" width="4.111" height="1.111"/><rect x="263.059" y="136.945" width="4.111" height="1.111"/><rect x="268.948" y="136.945" width="4.111" height="1.111"/><rect x="274.837" y="136.945" width="4.111" height="1.111"/><rect x="280.726" y="136.945" width="4.111" height="1.111"/><rect x="286.615" y="136.945" width="4.111" height="1.111"/><rect x="292.504" y="136.945" width="4.111" height="1.111"/><rect x="298.393" y="136.945" width="4.111" height="1.111"/><rect x="304.282" y="136.945" width="4.111" height="1.111"/><rect x="310.171" y="136.945" width="4.111" height="1.111"/><rect x="316.06" y="136.945" width="4.111" height="1.111"/><rect x="321.949" y="136.945" width="4.111" height="1.111"/><rect x="327.838" y="136.945" width="4.111" height="1.111"/><rect x="333.727" y="136.945" width="4.111" height="1.111"/><rect x="339.616" y="136.945" width="4.111" height="1.111"/><rect x="345.505" y="136.945" width="4.111" height="1.111"/><rect x="351.394" y="136.945" width="4.111" height="1.111"/><rect x="357.283" y="136.945" width="4.111" height="1.111"/><rect x="363.172" y="136.945" width="4.111" height="1.111"/><rect x="369.061" y="136.945" width="4.111" height="1.111"/><rect x="374.95" y="136.945" width="4.111" height="1.111"/><rect x="380.839" y="136.945" width="4.111" height="1.111"/><rect x="386.728" y="136.945" width="4.111" height="1.111"/><rect x="392.617" y="136.945" width="4.111" height="1.111"/><rect x="398.506" y="136.945" width="4.111" height="1.111"/><rect x="404.395" y="136.945" width="4.111" height="1.111"/><rect x="410.284" y="136.945" width="4.111" height="1.111"/><rect x="416.173" y="136.945" width="4.111" height="1.111"/><rect x="422.062" y="136.945" width="4.111" height="1.111"/><rect x="427.951" y="136.945" width="4.111" height="1.111"/><rect x="433.84" y="136.945" width="4.111" height="1.111"/><rect x="439.729" y="136.945" width="4.111" height="1.111"/><rect x="445.618" y="136.945" width="4.111" height="1.111"/><rect x="451.507" y="136.945" width="4.111" height="1.111"/><rect x="457.396" y="136.945" width="4.111" height="1.111"/><rect x="463.285" y="136.945" width="4.111" height="1.111"/><rect x="469.174" y="136.945" width="4.111" height="1.111"/><rect x="475.063" y="136.945" width="4.111" height="1.111"/><rect x="480.952" y="136.945" width="4.111" height="1.111"/><rect x="486.841" y="136.945" width="4.111" height="1.111"/><rect x="492.73" y="136.945" width="4.111" height="1.111"/><rect x="498.619" y="136.945" width="4.111" height="1.111"/><rect x="504.508" y="136.945" width="4.111" height="1.111"/><rect x="510.397" y="136.945" width="4.111" height="1.111"/><rect x="516.286" y="136.945" width="4.111" height="1.111"/><rect x="522.175" y="136.945" width="4.111" height="1.111"/><rect x="528.064" y="136.945" width="4.111" height="1.111"/><rect x="533.953" y="136.945" width="4.111" height="1.111"/><rect x="539.842" y="136.945" width="4.111" height="1.111"/><rect x="545.731" y="136.945" width="4.111" height="1.111"/><rect x="551.62" y="136.945" width="4.111" height="1.111"/><rect x="557.509" y="136.945" width="4.111" height="1.111"/><rect x="563.398" y="136.945" width="4.111" height="1.111"/><rect x="569.287" y="136.945" width="4.111" height="1.111"/><rect x="575.176" y="136.945" width="1.324" height="1.111"/><rect x="469.945" y="423.389" width="1.111" height="4.111"/><rect x="469.945" y="417.5" width="1.111" height="4.111"/><rect x="469.945" y="411.611" width="1.111" height="4.111"/><rect x="469.945" y="405.722" width="1.111" height="4.111"/><rect x="469.945" y="399.833" width="1.111" height="4.111"/><rect x="469.945" y="393.944" width="1.111" height="4.111"/><rect x="469.945" y="388.055" width="1.111" height="4.111"/><rect x="469.945" y="382.166" width="1.111" height="4.111"/><rect x="469.945" y="376.277" width="1.111" height="4.111"/><rect x="469.945" y="370.388" width="1.111" height="4.111"/><rect x="469.945" y="364.499" width="1.111" height="4.111"/><rect x="469.945" y="358.61" width="1.111" height="4.111"/><rect x="469.945" y="352.721" width="1.111" height="4.111"/><rect x="469.945" y="346.832" width="1.111" height="4.111"/><rect x="469.945" y="340.943" width="1.111" height="4.111"/><rect x="469.945" y="335.054" width="1.111" height="4.111"/><rect x="469.945" y="329.165" width="1.111" height="4.111"/><rect x="469.945" y="323.276" width="1.111" height="4.111"/><rect x="469.945" y="317.387" width="1.111" height="4.111"/><rect x="469.945" y="311.498" width="1.111" height="4.111"/><rect x="469.945" y="305.609" width="1.111" height="4.111"/><rect x="469.945" y="299.72" width="1.111" height="4.111"/><rect x="469.945" y="293.831" width="1.111" height="4.111"/><rect x="469.945" y="287.942" width="1.111" height="4.111"/><rect x="469.945" y="282.053" width="1.111" height="4.111"/><rect x="469.945" y="276.164" width="1.111" height="4.111"/><rect x="469.945" y="270.275" width="1.111" height="4.111"/><rect x="469.945" y="264.386" width="1.111" height="4.111"/><rect x="469.945" y="258.497" width="1.111" height="4.111"/><rect x="469.945" y="252.608" width="1.111" height="4.111"/><rect x="469.945" y="246.719" width="1.111" height="4.111"/><rect x="469.945" y="240.83" width="1.111" height="4.111"/><rect x="469.945" y="234.941" width="1.111" height="4.111"/><rect x="469.945" y="229.052" width="1.111" height="4.111"/><rect x="469.945" y="223.163" width="1.111" height="4.111"/><rect x="469.945" y="217.274" width="1.111" height="4.111"/><rect x="469.945" y="211.385" width="1.111" height="4.111"/><rect x="469.945" y="205.496" width="1.111" height="4.111"/><rect x="469.945" y="199.607" width="1.111" height="4.111"/><rect x="469.945" y="193.718" width="1.111" height="4.111"/><rect x="469.945" y="187.829" width="1.111" height="4.111"/><rect x="469.945" y="181.94" width="1.111" height="4.111"/><rect x="469.945" y="176.051" width="1.111" height="4.111"/><rect x="469.945" y="170.162" width="1.111" height="4.111"/><rect x="469.945" y="164.273" width="1.111" height="4.111"/><rect x="469.945" y="158.384" width="1.111" height="4.111"/><rect x="469.945" y="152.495" width="1.111" height="4.111"/><rect x="469.945" y="146.606" width="1.111" height="4.111"/><rect x="469.945" y="140.717" width="1.111" height="4.111"/><rect x="469.945" y="134.828" width="1.111" height="4.111"/><rect x="469.945" y="128.939" width="1.111" height="4.111"/><rect x="469.945" y="123.05" width="1.111" height="4.111"/><rect x="469.945" y="117.161" width="1.111" height="4.111"/><rect x="469.945" y="111.272" width="1.111" height="4.111"/><rect x="469.945" y="105.383" width="1.111" height="4.111"/><rect x="469.945" y="99.494" width="1.111" height="4.111"/><rect x="469.945" y="93.605" width="1.111" height="4.111"/><rect x="469.945" y="87.716" width="1.111" height="4.111"/><rect x="469.945" y="81.827" width="1.111" height="4.111"/><rect x="469.945" y="75.938" width="1.111" height="4.111"/><rect x="469.945" y="70.049" width="1.111" height="4.111"/><rect x="469.945" y="64.16" width="1.111" height="4.111"/><rect x="469.945" y="58.5" width="1.111" height="3.882"/><rect x="80.5" y="83.945" width="4.111" height="1.111"/><rect x="86.389" y="83.945" width="4.111" height="1.111"/><rect x="92.278" y="83.945" width="4.111" height="1.111"/><rect x="98.167" y="83.945" width="4.111" height="1.111"/><rect x="104.056" y="83.945" width="4.111" height="1.111"/><rect x="109.945" y="83.945" width="4.111" height="1.111"/><rect x="115.834" y="83.945" width="4.111" height="1.111"/><rect x="121.723" y="83.945" width="4.111" height="1.111"/><rect x="127.612" y="83.945" width="4.111" height="1.111"/><rect x="133.501" y="83.945" width="4.111" height="1.111"/><rect x="139.39" y="83.945" width="4.111" height="1.111"/><rect x="145.279" y="83.945" width="4.111" height="1.111"/><rect x="151.168" y="83.945" width="4.111" height="1.111"/><rect x="157.057" y="83.945" width="4.111" height="1.111"/><rect x="162.946" y="83.945" width="4.111" height="1.111"/><rect x="168.835" y="83.945" width="4.111" height="1.111"/><rect x="174.724" y="83.945" width="4.111" height="1.111"/><rect x="180.613" y="83.945" width="4.111" height="1.111"/><rect x="186.502" y="83.945" width="4.111" height="1.111"/><rect x="192.391" y="83.945" width="4.111" height="1.111"/><rect x="198.28" y="83.945" width="4.111" height="1.111"/><rect x="204.169" y="83.945" width="4.111" height="1.111"/><rect x="210.058" y="83.945" width="4.111" height="1.111"/><rect x="215.947" y="83.945" width="4.111" height="1.111"/><rect x="221.836" y="83.945" width="4.111" height="1.111"/><rect x="227.725" y="83.945" width="4.111" height="1.111"/><rect x="233.614" y="83.945" width="4.111" height="1.111"/><rect x="239.503" y="83.945" width="4.111" height="1.111"/><rect x="245.392" y="83.945" width="4.111" height="1.111"/><rect x="251.281" y="83.945" width="4.111" height="1.111"/><rect x="257.17" y="83.945" width="4.111" height="1.111"/><rect x="263.059" y="83.945" width="4.111" height="1.111"/><rect x="268.948" y="83.945" width="4.111" height="1.111"/><rect x="274.837" y="83.945" width="4.111" height="1.111"/><rect x="280.726" y="83.945" width="4.111" height="1.111"/><rect x="286.615" y="83.945" width="4.111" height="1.111"/><rect x="292.504" y="83.945" width="4.111" height="1.111"/><rect x="298.393" y="83.945" width="4.111" height="1.111"/><rect x="304.282" y="83.945" width="4.111" height="1.111"/><rect x="310.171" y="83.945" width="4.111" height="1.111"/><rect x="316.06" y="83.945" width="4.111" height="1.111"/><rect x="321.949" y="83.945" width="4.111" height="1.111"/><rect x="327.838" y="83.945" width="4.111" height="1.111"/><rect x="333.727" y="83.945" width="4.111" height="1.111"/><rect x="339.616" y="83.945" width="4.111" height="1.111"/><rect x="345.505" y="83.945" width="4.111" height="1.111"/><rect x="351.394" y="83.945" width="4.111" height="1.111"/><rect x="357.283" y="83.945" width="4.111" height="1.111"/><rect x="363.172" y="83.945" width="4.111" height="1.111"/><rect x="369.061" y="83.945" width="4.111" height="1.111"/><rect x="374.95" y="83.945" width="4.111" height="1.111"/><rect x="380.839" y="83.945" width="4.111" height="1.111"/><rect x="386.728" y="83.945" width="4.111" height="1.111"/><rect x="392.617" y="83.945" width="4.111" height="1.111"/><rect x="398.506" y="83.945" width="4.111" height="1.111"/><rect x="404.395" y="83.945" width="4.111" height="1.111"/><rect x="410.284" y="83.945" width="4.111" height="1.111"/><rect x="416.173" y="83.945" width="4.111" height="1.111"/><rect x="422.062" y="83.945" width="4.111" height="1.111"/><rect x="427.951" y="83.945" width="4.111" height="1.111"/><rect x="433.84" y="83.945" width="4.111" height="1.111"/><rect x="439.729" y="83.945" width="4.111" height="1.111"/><rect x="445.618" y="83.945" width="4.111" height="1.111"/><rect x="451.507" y="83.945" width="4.111" height="1.111"/><rect x="457.396" y="83.945" width="4.111" height="1.111"/><rect x="463.285" y="83.945" width="4.111" height="1.111"/><rect x="469.174" y="83.945" width="4.111" height="1.111"/><rect x="475.063" y="83.945" width="4.111" height="1.111"/><rect x="480.952" y="83.945" width="4.111" height="1.111"/><rect x="486.841" y="83.945" width="4.111" height="1.111"/><rect x="492.73" y="83.945" width="4.111" height="1.111"/><rect x="498.619" y="83.945" width="4.111" height="1.111"/><rect x="504.508" y="83.945" width="4.111" height="1.111"/><rect x="510.397" y="83.945" width="4.111" height="1.111"/><rect x="516.286" y="83.945" width="4.111" height="1.111"/><rect x="522.175" y="83.945" width="4.111" height="1.111"/><rect x="528.064" y="83.945" width="4.111" height="1.111"/><rect x="533.953" y="83.945" width="4.111" height="1.111"/><rect x="539.842" y="83.945" width="4.111" height="1.111"/><rect x="545.731" y="83.945" width="4.111" height="1.111"/><rect x="551.62" y="83.945" width="4.111" height="1.111"/><rect x="557.509" y="83.945" width="4.111" height="1.111"/><rect x="563.398" y="83.945" width="4.111" height="1.111"/><rect x="569.287" y="83.945" width="4.111" height="1.111"/><rect x="575.176" y="83.945" width="1.324" height="1.111"/><rect x="540.944" y="423.389" width="1.111" height="4.111"/><rect x="540.944" y="417.5" width="1.111" height="4.111"/><rect x="540.944" y="411.611" width="1.111" height="4.111"/><rect x="540.944" y="405.722" width="1.111" height="4.111"/><rect x="540.944" y="399.833" width="1.111" height="4.111"/><rect x="540.944" y="393.944" width="1.111" height="4.111"/><rect x="540.944" y="388.055" width="1.111" height="4.111"/><rect x="540.944" y="382.166" width="1.111" height="4.111"/><rect x="540.944" y="376.277" width="1.111" height="4.111"/><rect x="540.944" y="370.388" width="1.111" height="4.111"/><rect x="540.944" y="364.499" width="1.111" height="4.111"/><rect x="540.944" y="358.61" width="1.111" height="4.111"/><rect x="540.944" y="352.721" width="1.111" height="4.111"/><rect x="540.944" y="346.832" width="1.111" height="4.111"/><rect x="540.944" y="340.943" width="1.111" height="4.111"/><rect x="540.944" y="335.054" width="1.111" height="4.111"/><rect x="540.944" y="329.165" width="1.111" height="4.111"/><rect x="540.944" y="323.276" width="1.111" height="4.111"/><rect x="540.944" y="317.387" width="1.111" height="4.111"/><rect x="540.944" y="311.498" width="1.111" height="4.111"/><rect x="540.944" y="305.609" width="1.111" height="4.111"/><rect x="540.944" y="299.72" width="1.111" height="4.111"/><rect x="540.944" y="293.831" width="1.111" height="4.111"/><rect x="540.944" y="287.942" width="1.111" height="4.111"/><rect x="540.944" y="282.053" width="1.111" height="4.111"/><rect x="540.944" y="276.164" width="1.111" height="4.111"/><rect x="540.944" y="270.275" width="1.111" height="4.111"/><rect x="540.944" y="264.386" width="1.111" height="4.111"/><rect x="540.944" y="258.497" width="1.111" height="4.111"/><rect x="540.944" y="252.608" width="1.111" height="4.111"/><rect x="540.944" y="246.719" width="1.111" height="4.111"/><rect x="540.944" y="240.83" width="1.111" height="4.111"/><rect x="540.944" y="234.941" width="1.111" height="4.111"/><rect x="540.944" y="229.052" width="1.111" height="4.111"/><rect x="540.944" y="223.163" width="1.111" height="4.111"/><rect x="540.944" y="217.274" width="1.111" height="4.111"/><rect x="540.944" y="211.385" width="1.111" height="4.111"/><rect x="540.944" y="205.496" width="1.111" height="4.111"/><rect x="540.944" y="199.607" width="1.111" height="4.111"/><rect x="540.944" y="193.718" width="1.111" height="4.111"/><rect x="540.944" y="187.829" width="1.111" height="4.111"/><rect x="540.944" y="181.94" width="1.111" height="4.111"/><rect x="540.944" y="176.051" width="1.111" height="4.111"/><rect x="540.944" y="170.162" width="1.111" height="4.111"/><rect x="540.944" y="164.273" width="1.111" height="4.111"/><rect x="540.944" y="158.384" width="1.111" height="4.111"/><rect x="540.944" y="152.495" width="1.111" height="4.111"/><rect x="540.944" y="146.606" width="1.111" height="4.111"/><rect x="540.944" y="140.717" width="1.111" height="4.111"/><rect x="540.944" y="134.828" width="1.111" height="4.111"/><rect x="540.944" y="128.939" width="1.111" height="4.111"/><rect x="540.944" y="123.05" width="1.111" height="4.111"/><rect x="540.944" y="117.161" width="1.111" height="4.111"/><rect x="540.944" y="111.272" width="1.111" height="4.111"/><rect x="540.944" y="105.383" width="1.111" height="4.111"/><rect x="540.944" y="99.494" width="1.111" height="4.111"/><rect x="540.944" y="93.605" width="1.111" height="4.111"/><rect x="540.944" y="87.716" width="1.111" height="4.111"/><rect x="540.944" y="81.827" width="1.111" height="4.111"/><rect x="540.944" y="75.938" width="1.111" height="4.111"/><rect x="540.944" y="70.049" width="1.111" height="4.111"/><rect x="540.944" y="64.16" width="1.111" height="4.111"/><rect x="540.944" y="58.5" width="1.111" height="3.882"/></g>
<clipPath id="c"><rect x="80" y="58.2" width="496.5" height="369"/></clipPath>
<rect x="80" y="241.353" width="141.714" height="2.098" fill="#1f77b4"/>
<path d="M221.71 242.40 221.71 242.40 222.07 242.53 222.42 242.66 222.78 242.79 223.13 242.92 223.49 243.05 223.84 243.18 224.19 243.30 224.55 243.43 224.90 243.55 225.26 243.68 225.61 243.80 225.97 243.92 226.32 244.04 226.67 244.16 227.03 244.28 227.38 244.40 227.74 244.52 228.09 244.63 228.45 244.75 228.80 244.86 229.15 244.98 229.51 245.09 229.86 245.20 230.22 245.31 230.57 245.42 230.93 245.53 231.28 245.64 231.63 245.75 231.99 245.86 232.34 245.96 232.70 246.07 233.05 246.17 233.41 246.28 233.76 246.38 234.11 246.48 234.47 246.58 234.82 246.68 235.18 246.78 235.53 246.88 235.89 246.98 236.24 247.07 236.59 247.17 236.95 247.26 237.30 247.36 237.66 247.45 238.01 247.54 238.37 247.63 238.72 247.72 239.07 247.81 239.43 247.90 239.78 247.99 240.14 248.07 240.49 248.16 240.85 248.24 241.20 248.33 241.55 248.41 241.91 248.49 242.26 248.58 242.62 248.66 242.97 248.74 243.33 248.81 243.68 248.89 244.03 248.97 244.39 249.05 244.74 249.12 245.10 249.20 245.45 249.27 245.81 249.34 246.16 249.41 246.51 249.48 246.87 249.55 247.22 249.62 247.58 249.69 247.93 249.76 248.29 249.82 248.64 249.89 248.99 249.96 249.35 250.02 249.70 250.08 250.06 250.14 250.41 250.21 250.77 250.27 251.12 250.32 251.47 250.38 251.83 250.44 252.18 250.50 252.54 250.55 252.89 250.61 253.25 250.66 253.60 250.72 253.95 250.77 254.31 250.82 254.66 250.87 255.02 250.92 255.37 250.97 255.73 251.02 256.08 251.06 256.43 251.11 256.79 251.16 257.14 251.20 257.50 251.24 257.85 251.29 258.21 251.33 258.56 251.37 258.91 251.41 259.27 251.45 259.62 251.49 259.98 251.52 260.33 251.56 260.69 251.60 261.04 251.63 261.39 251.66 261.75 251.70 262.10 251.73 262.46 251.76 262.81 251.79 263.17 251.82 263.52 251.85 263.87 251.88 264.23 251.90 264.58 251.93 264.94 251.96 265.29 251.98 265.65 252.00 266.00 252.02 266.35 252.05 266.71 252.07 267.06 252.09 267.42 252.11 267.77 252.12 268.13 252.14 268.48 252.16 268.83 252.17 269.19 252.19 269.54 252.20 269.90 252.21 270.25 252.23 270.61 252.24 270.96 252.25 271.31 252.26 271.67 252.26 272.02 252.27 272.38 252.28 272.73 252.28 273.09 252.29 273.44 252.29 273.79 252.30 274.15 252.30 274.50 252.30 274.86 252.30 275.21 252.30 275.57 252.30 275.92 252.30 276.27 252.29 276.63 252.29 276.98 252.28 277.34 252.28 277.69 252.27 278.05 252.26 278.40 252.26 278.75 252.25 279.11 252.24 279.46 252.23 279.82 252.21 280.17 252.20 280.53 252.19 280.88 252.17 281.23 252.16 281.59 252.14 281.94 252.12 282.30 252.11 282.65 252.09 283.01 252.07 283.36 252.05 283.71 252.03 284.07 252.00 284.42 251.98 284.78 251.96 285.13 251.93 285.49 251.90 285.84 251.88 286.19 251.85 286.55 251.82 286.90 251.79 287.26 251.76 287.61 251.73 287.97 251.70 288.32 251.66 288.67 251.63 289.03 251.60 289.38 251.56 289.74 251.52 290.09 251.49 290.45 251.45 290.80 251.41 291.15 251.37 291.51 251.33 291.86 251.29 292.22 251.24 292.57 251.20 292.93 251.16 293.28 251.11 293.63 251.06 293.99 251.02 294.34 250.97 294.70 250.92 295.05 250.87 295.41 250.82 295.76 250.77 296.11 250.72 296.47 250.66 296.82 250.61 297.18 250.55 297.53 250.50 297.89 250.44 298.24 250.38 298.59 250.32 298.95 250.27 299.30 250.21 299.66 250.14 300.01 250.08 300.37 250.02 300.72 249.96 301.07 249.89 301.43 249.83 301.78 249.76 302.14 249.69 302.49 249.62 302.85 249.55 303.20 249.48 303.55 249.41 303.91 249.34 304.26 249.27 304.62 249.20 304.97 249.12 305.33 249.05 305.68 248.97 306.03 248.89 306.39 248.81 306.74 248.74 307.10 248.66 307.45 248.58 307.81 248.49 308.16 248.41 308.51 248.33 308.87 248.24 309.22 248.16 309.58 248.07 309.93 247.99 310.29 247.90 310.64 247.81 310.99 247.72 311.35 247.63 311.70 247.54 312.06 247.45 312.41 247.36 312.77 247.26 313.12 247.17 313.47 247.07 313.83 246.98 314.18 246.88 314.54 246.78 314.89 246.68 315.25 246.58 315.60 246.48 315.95 246.38 316.31 246.28 316.66 246.17 317.02 246.07 317.37 245.96 317.73 245.86 318.08 245.75 318.43 245.64 318.79 245.53 319.14 245.43 319.50 245.31 319.85 245.20 320.21 245.09 320.56 244.98 320.91 244.86 321.27 244.75 321.62 244.63 321.98 244.52 322.33 244.40 322.69 244.28 323.04 244.16 323.39 244.04 323.75 243.92 324.10 243.80 324.46 243.68 324.81 243.55 325.17 243.43 325.52 243.30 325.87 243.18 326.23 243.05 326.58 242.92 326.94 242.79 327.29 242.66 327.65 242.53 328.00 242.40 328.35 242.27 328.71 242.13 329.06 242.00 329.42 241.86 329.77 241.73 330.13 241.59 330.48 241.45 330.83 241.32 331.19 241.18 331.54 241.04 331.90 240.89 332.25 240.75 332.61 240.61 332.96 240.47 333.31 240.32 333.67 240.18 334.02 240.03 334.38 239.88 334.73 239.73 335.09 239.58 335.44 239.43 335.79 239.28 336.15 239.13 336.50 238.98 336.86 238.83 337.21 238.67 337.57 238.52 337.92 238.36 338.27 238.20 338.63 238.04 338.98 237.89 339.34 237.73 339.69 237.56 340.05 237.40 340.40 237.24 340.75 237.08 341.11 236.91 341.46 236.75 341.82 236.58 342.17 236.42 342.53 236.25 342.88 236.08 343.23 235.91 343.59 235.74 343.94 235.57 344.30 235.40 344.65 235.22 345.01 235.05 345.36 234.88 345.71 234.70 346.07 234.52 346.42 234.35 346.78 234.17 347.13 233.99 347.49 233.81 347.84 233.63 348.19 233.45 348.55 233.26 348.90 233.08 349.26 232.90 349.61 232.71 349.97 232.52 350.32 232.34 350.67 232.15 351.03 231.96 351.38 231.77 351.74 231.58 352.09 231.39 352.45 231.20 352.80 231.00 353.15 230.81 353.51 230.62 353.86 230.42 354.22 230.22 354.57 230.03 354.93 229.83 355.28 229.63 355.63 229.43 355.99 229.23 356.34 229.02 356.70 228.82 357.05 228.62 357.41 228.41 357.76 228.21 358.11 228.00 358.47 227.79 358.82 227.59 359.18 227.38 359.53 227.17 359.89 226.96 360.24 226.74 360.59 226.53 360.95 226.32 361.30 226.10 361.66 225.89 362.01 225.67 362.37 225.46 362.72 225.24 363.07 225.02 363.43 224.80 363.78 224.58 364.14 224.36 364.49 224.14 364.85 223.91 365.20 223.69 365.55 223.46 365.91 223.24 366.26 223.01 366.62 222.78 366.97 222.56 367.33 222.33 367.68 222.10 368.03 221.87 368.39 221.63 368.74 221.40 369.10 221.17 369.45 220.93 369.81 220.70 370.16 220.46 370.51 220.22 370.87 219.99 371.22 219.75 371.58 219.51 371.93 219.27 372.29 219.03 372.64 218.78 372.99 218.54 373.35 218.30 373.70 218.05 374.06 217.80 374.41 217.56 374.77 217.31 375.12 217.06 375.47 216.81 375.83 216.56 376.18 216.31 376.54 216.06 376.89 215.80 377.25 215.55 377.60 215.30 377.95 215.04 378.31 214.78 378.66 214.53 379.02 214.27 379.37 214.01 379.73 213.75 380.08 213.49 380.43 213.23 380.79 212.96 381.14 212.70 381.50 212.44 381.85 212.17 382.21 211.90 382.56 211.64 382.91 211.37 383.27 211.10 383.62 210.83 383.98 210.56 384.33 210.29 384.69 210.02 385.04 209.74 385.39 209.47 385.75 209.19 386.10 208.92 386.46 208.64 386.81 208.36 387.17 208.08 387.52 207.81 387.87 207.53 388.23 207.24 388.58 206.96 388.94 206.68 389.29 206.40 389.65 206.11 390.00 205.83 390.35 205.54 390.71 205.25 391.06 204.96 391.42 204.67 391.77 204.38 392.13 204.09 392.48 203.80 392.83 203.51 393.19 203.22 393.54 202.92 393.90 202.63 394.25 202.33 394.61 202.03 394.96 201.73 395.31 201.44 395.67 201.14 396.02 200.84 396.38 200.53 396.73 200.23 397.09 199.93 397.44 199.62 397.79 199.32 398.15 199.01 398.50 198.71 398.86 198.40 399.21 198.09 399.57 197.78 399.92 197.47 400.27 197.16 400.63 196.85 400.98 196.54 401.34 196.22 401.69 195.91 402.05 195.59 402.40 195.28 402.75 194.96 403.11 194.64 403.46 194.32 403.82 194.00 404.17 193.68 404.53 193.36 404.88 193.04 405.23 192.71 405.59 192.39 405.94 192.06 406.30 191.74 406.65 191.41 407.01 191.08 407.36 190.75 407.71 190.43 408.07 190.09 408.42 189.76 408.78 189.43 409.13 189.10 409.49 188.76 409.84 188.43 410.19 188.09 410.55 187.76 410.90 187.42 411.26 187.08 411.61 186.74 411.97 186.40 412.32 186.06 412.67 185.72 413.03 185.38 413.38 185.03 413.74 184.69 414.09 184.34 414.45 184.00 414.80 183.65 415.15 183.30 415.51 182.95 415.86 182.60 416.22 182.25 416.57 181.90 416.93 181.55 417.28 181.19 417.63 180.84 417.99 180.48 418.34 180.13 418.70 179.77 419.05 179.41 419.41 179.06 419.76 178.70 420.11 178.34 420.47 177.97 420.82 177.61 421.18 177.25 421.53 176.89 421.89 176.52 422.24 176.16 422.59 175.79 422.95 175.42 423.30 175.05 423.66 174.68 424.01 174.31 424.37 173.94 424.72 173.57 425.07 173.20 425.43 172.83 425.78 172.45 426.14 172.08 426.49 171.70 426.85 171.32 427.20 170.94 427.55 170.57 427.91 170.19 428.26 169.80 428.62 169.42 428.97 169.04 429.33 168.66 429.68 168.27 430.03 167.89 430.39 167.50 430.74 167.12 431.10 166.73 431.45 166.34 431.81 165.95 432.16 165.56 432.51 165.17 432.87 164.78 433.22 164.38 433.58 163.99 433.93 163.60 434.29 163.20 434.64 162.94 434.99 162.67 435.35 162.41 435.70 162.14 436.06 161.88 436.41 161.62 436.77 161.35 437.12 161.09 437.47 160.82 437.83 160.56 438.18 160.30 438.54 160.03 438.89 159.77 439.25 159.50 439.60 159.24 439.95 158.98 440.31 158.71 440.66 158.45 441.02 158.18 441.37 157.92 441.73 157.66 442.08 157.39 442.43 157.13 442.79 156.86 443.14 156.60 443.50 156.34 443.85 156.07 444.21 155.81 444.56 155.54 444.91 155.28 445.27 155.02 445.62 154.75 445.98 154.49 446.33 154.22 446.69 153.96 447.04 153.70 447.39 153.43 447.75 153.17 448.10 152.90 448.46 152.64 448.81 152.38 449.17 152.11 449.52 151.85 449.87 151.58 450.23 151.32 450.58 151.06 450.94 150.79 451.29 150.53 451.65 150.26 452.00 150.00 452.35 149.74 452.71 149.47 453.06 149.21 453.42 148.94 453.77 148.68 454.13 148.42 454.48 148.15 454.83 147.89 455.19 147.62 455.54 147.36 455.90 147.10 456.25 146.83 456.61 146.57 456.96 146.30 457.31 146.04 457.67 145.78 458.02 145.51 458.38 145.25 458.73 144.98 459.09 144.72 459.44 144.46 459.79 144.19 460.15 143.93 460.50 143.66 460.86 143.40 461.21 143.14 461.57 142.87 461.92 142.61 462.27 142.34 462.63 142.08 462.98 141.82 463.34 141.55 463.69 141.29 464.05 141.02 464.40 140.76 464.75 140.50 465.11 140.23 465.46 139.97 465.82 139.70 466.17 139.44 466.53 139.18 466.88 138.91 467.23 138.65 467.59 138.38 467.94 138.12 468.30 137.86 468.65 137.59 469.01 137.33 469.36 137.06 469.71 136.80 470.07 136.54 470.42 136.27 470.78 136.01 471.13 135.74 471.49 135.48 471.84 135.22 472.19 134.95 472.55 134.69 472.90 134.42 473.26 134.16 473.61 133.90 473.97 133.63 474.32 133.37 474.67 133.10 475.03 132.84 475.38 132.58 475.74 132.31 476.09 132.05 476.45 131.78 476.80 131.52 477.15 131.26 477.51 130.99 477.86 130.73 478.22 130.46 478.57 130.20 478.93 129.94 479.28 129.67 479.63 129.41 479.99 129.14 480.34 128.88 480.70 128.62 481.05 128.35 481.41 128.09 481.76 127.82 482.11 127.56 482.47 127.30 482.82 127.03 483.18 126.77 483.53 126.50 483.89 126.24 484.24 125.98 484.59 125.71 484.95 125.45 485.30 125.18 485.66 124.92 486.01 124.66 486.37 124.39 486.72 124.13 487.07 123.86 487.43 123.60 487.78 123.34 488.14 123.07 488.49 122.81 488.85 122.54 489.20 122.28 489.55 122.02 489.91 121.75 490.26 121.49 490.62 121.22 490.97 120.96 491.33 120.70 491.68 120.43 492.03 120.17 492.39 119.90 492.74 119.64 493.10 119.38 493.45 119.11 493.81 118.85 494.16 118.58 494.51 118.32 494.87 118.06 495.22 117.79 495.58 117.53 495.93 117.26 496.29 117.00 496.64 116.74 496.99 116.47 497.35 116.21 497.70 115.94 498.06 115.68 498.41 115.42 498.77 115.15 499.12 114.89 499.47 114.62 499.83 114.36 500.18 114.10 500.54 113.83 500.89 113.57 501.25 113.30 501.60 113.04 501.95 112.78 502.31 112.51 502.66 112.25 503.02 111.98 503.37 111.72 503.73 111.46 504.08 111.19 504.43 110.93 504.79 110.66 505.14 110.40 505.50 110.14 505.85 109.87 506.21 109.61 506.56 109.34 506.91 109.08 507.27 108.82 507.62 108.55 507.98 108.29 508.33 108.02 508.69 107.76 509.04 107.50 509.39 107.23 509.75 106.97 510.10 106.70 510.46 106.44 510.81 106.18 511.17 105.91 511.52 105.65 511.87 105.38 512.23 105.12 512.58 104.86 512.94 104.59 513.29 104.33 513.65 104.06 514.00 103.80 514.35 103.54 514.71 103.27 515.06 103.01 515.42 102.74 515.77 102.48 516.13 102.22 516.48 101.95 516.83 101.69 517.19 101.42 517.54 101.16 517.90 100.90 518.25 100.63 518.61 100.37 518.96 100.10 519.31 99.84 519.67 99.58 520.02 99.31 520.38 99.05 520.73 98.78 521.09 98.52 521.44 98.26 521.79 97.99 522.15 97.73 522.50 97.46 522.86 97.20 523.21 96.94 523.57 96.67 523.92 96.41 524.27 96.14 524.63 95.88 524.98 95.62 525.34 95.35 525.69 95.09 526.05 94.82 526.40 94.56 526.75 94.30 527.11 94.03 527.46 93.77 527.82 93.50 528.17 93.24 528.53 92.98 528.88 92.71 529.23 92.45 529.59 92.18 529.94 91.92 530.30 91.66 530.65 91.39 531.01 91.13 531.36 90.86 531.71 90.60 532.07 90.34 532.42 90.07 532.78 89.81 533.13 89.54 533.49 89.28 533.84 89.02 534.19 88.75 534.55 88.49 534.90 88.22 535.26 87.96 535.61 87.70 535.97 87.43 536.32 87.17 536.67 86.90 537.03 86.64 537.38 86.38 537.74 86.11 538.09 85.85 538.45 85.58 538.80 85.32 539.15 85.06 539.51 84.79 539.86 84.53 540.22 84.26 540.57 84.00 540.93 83.74 541.28 83.47 541.63 83.21 541.99 82.94 542.34 82.68 542.70 82.42 543.05 82.15 543.41 81.89 543.76 81.62 544.11 81.36 544.47 81.10 544.82 80.83 545.18 80.57 545.53 80.30 545.89 80.04 546.24 79.78 546.59 79.51 546.95 79.25 547.30 78.98 547.66 78.72 548.01 78.46 548.37 78.19 548.72 77.93 549.07 77.66 549.43 77.40 549.78 77.14 550.14 76.87 550.49 76.61 550.85 76.34 551.20 76.08 551.55 75.82 551.91 75.55 552.26 75.29 552.62 75.02 552.97 74.76 553.33 74.50 553.68 74.23 554.03 73.97 554.39 73.70 554.74 73.44 555.10 73.18 555.45 72.91 555.81 72.65 556.16 72.38 556.51 72.12 556.87 71.86 557.22 71.59 557.58 71.33 557.93 71.06 558.29 70.80 558.64 70.54 558.99 70.27 559.35 70.01 559.70 69.74 560.06 69.48 560.41 69.22 560.77 68.95 561.12 68.69 561.47 68.42 561.83 68.16 562.18 67.90 562.54 67.63 562.89 67.37 563.25 67.10 563.60 66.84 563.95 66.58 564.31 66.31 564.66 66.05 565.02 65.78 565.37 65.52 565.73 65.26 566.08 64.99 566.43 64.73 566.79 64.46 567.14 64.20 567.50 63.94 567.85 63.67 568.21 63.41 568.56 63.14 568.91 62.88 569.27 62.62 569.62 62.35 569.98 62.09 570.33 61.82 570.69 61.56 571.04 61.30 571.39 61.03 571.75 60.77 572.10 60.50 572.46 60.24 572.81 59.98 573.17 59.71 573.52 59.45 573.87 59.18 574.23 58.92 574.58 58.66 574.94 58.39 575.29 58.13 575.65 57.86" fill="none" stroke="#1f77b4" stroke-width="2.08" stroke-linejoin="round" stroke-linecap="round" clip-path="url(#c)"/>
<rect x="80.5" y="58.5" width="496" height="369" fill="none" stroke="#000" stroke-width="1.11"/>
<g stroke="#000" stroke-width="1.11"><line x1="115.5" y1="427.5" x2="115.5" y2="432.5"/><line x1="75.5" y1="401.5" x2="80.5" y2="401.5"/><line x1="186.5" y1="427.5" x2="186.5" y2="432.5"/><line x1="75.5" y1="348.5" x2="80.5" y2="348.5"/><line x1="257.5" y1="427.5" x2="257.5" y2="432.5"/><line x1="75.5" y1="295.5" x2="80.5" y2="295.5"/><line x1="328.5" y1="427.5" x2="328.5" y2="432.5"/><line x1="75.5" y1="242.5" x2="80.5" y2="242.5"/><line x1="399.5" y1="427.5" x2="399.5" y2="432.5"/><line x1="75.5" y1="190.5" x2="80.5" y2="190.5"/><line x1="470.5" y1="427.5" x2="470.5" y2="432.5"/><line x1="75.5" y1="137.5" x2="80.5" y2="137.5"/><line x1="541.5" y1="427.5" x2="541.5" y2="432.5"/><line x1="75.5" y1="84.5" x2="80.5" y2="84.5"/></g>
<g><rect x="107.500" y="443.000" width="8.600" height="1.200"/><text transform="translate(116.625,448.000) scale(1.0557,1)" font-size="14.700" stroke="#000" stroke-width="0.050">6</text><rect x="178.530" y="443.000" width="8.570" height="1.200"/><text transform="translate(187.649,447.000) scale(1.0195,1)" font-size="14.700" stroke="#000" stroke-width="0.050">4</text><rect x="248.460" y="443.050" width="8.700" height="1.100"/><text transform="translate(257.649,448.000) scale(1.0054,1)" font-size="14.700" stroke="#000" stroke-width="0.050">2</text><text transform="translate(323.941,448.000) scale(1.0402,1)" font-size="14.700">0</text><text transform="translate(394.016,448.000) scale(1.0302,1)" font-size="14.500" stroke="#000" stroke-width="0.050">2</text><text transform="translate(465.936,447.000) scale(1.0400,1)" font-size="14.700" stroke="#000" stroke-width="0.050">4</text><text transform="translate(535.925,448.000) scale(1.0757,1)" font-size="14.700">6</text><text transform="translate(60.997,90.000) scale(1.0762,1)" font-size="14.700" stroke="#000" stroke-width="0.050">6</text><text transform="translate(62.128,142.000) scale(0.9341,1)" font-size="15.700">4</text><text transform="translate(62.027,195.000) scale(1.0053,1)" font-size="14.900" stroke="#000" stroke-width="0.050">2</text><text transform="translate(62.212,248.000) scale(1.0046,1)" font-size="14.700" stroke="#000" stroke-width="0.050">0</text><rect x="51.400" y="296.050" width="8.700" height="1.100"/><text transform="translate(60.882,301.000) scale(0.9506,1)" font-size="14.700" stroke="#000" stroke-width="0.050">2</text><rect x="51.500" y="349.000" width="8.600" height="1.100"/><text transform="translate(60.649,353.000) scale(1.0195,1)" font-size="14.700" stroke="#000" stroke-width="0.050">4</text><rect x="51.600" y="401.000" width="8.500" height="1.200"/><text transform="translate(60.675,406.000) scale(1.0557,1)" font-size="14.700" stroke="#000" stroke-width="0.050">6</text></g>
<text transform="scale(0.9500,1)" stroke="#000" stroke-width="0.075"><tspan x="293.847" y="47.800" font-size="17.400">H</tspan><tspan x="305.968" y="48.800" font-size="18.000">a</tspan><tspan x="316.764" y="48.800" font-size="19.200">r</tspan><tspan x="323.845" y="48.800" font-size="18.200">d</tspan><tspan x="334.418" y="48.800" font-size="17.800">s</tspan><tspan x="344.381" y="48.800" font-size="17.800">w</tspan><tspan x="358.668" y="48.800" font-size="17.600">i</tspan><tspan x="363.098" y="48.800" font-size="17.600">s</tspan><tspan x="372.591" y="48.800" font-size="18.400">h</tspan><tspan x="383.380" y="47.300" font-size="17.800">(</tspan><tspan x="390.747" y="46.800" font-size="16.400">)</tspan></text>
<text transform="scale(0.9700,1)" stroke="#000" stroke-width="0.050"><tspan x="319.529" y="466.800" font-size="15.000">I</tspan><tspan x="322.862" y="466.800" font-size="15.400">n</tspan><tspan x="331.899" y="466.800" font-size="15.400">p</tspan><tspan x="341.377" y="466.800" font-size="15.000">u</tspan><tspan x="349.895" y="466.800" font-size="15.400">t</tspan></text>
<text transform="translate(40.900,0) rotate(-90) scale(0.9700,1)" stroke="#000" stroke-width="0.025"><tspan x="-276.420" y="0.000" font-size="14.400">O</tspan><tspan x="-265.839" y="0.000" font-size="14.600">u</tspan><tspan x="-256.805" y="0.000" font-size="14.600">t</tspan><tspan x="-251.127" y="0.000" font-size="15.400">p</tspan><tspan x="-242.061" y="0.000" font-size="15.200">u</tspan><tspan x="-233.027" y="0.000" font-size="15.200">t</tspan></text>
</svg>
</body></html>
